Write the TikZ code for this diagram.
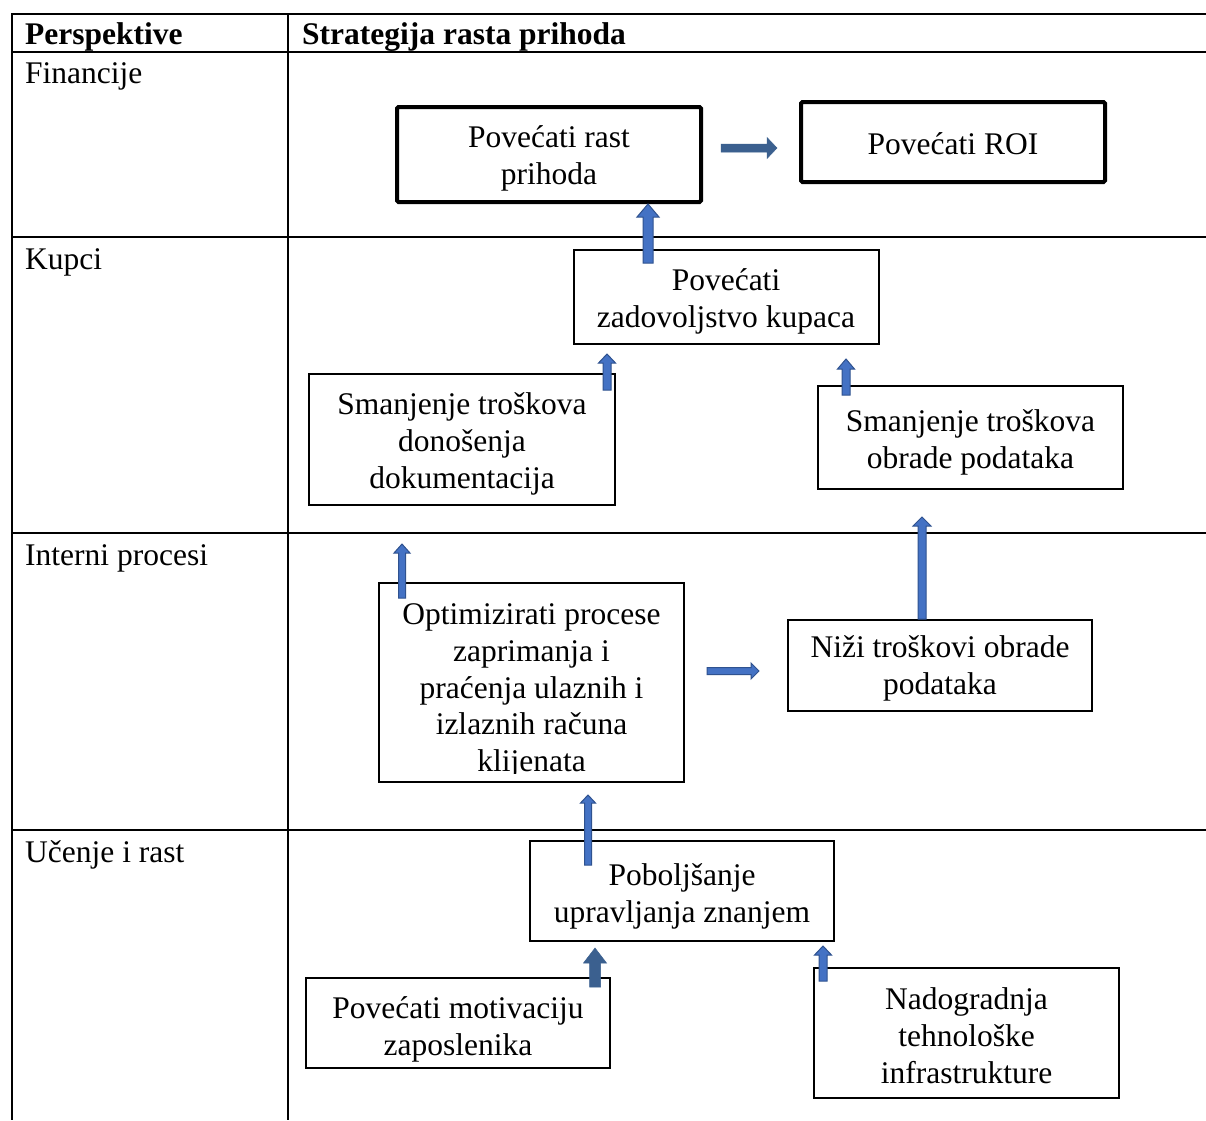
\documentclass[tikz,border=0pt]{standalone}
\usepackage{fontspec}
\setmainfont{Liberation Serif}
\usetikzlibrary{calc}
\definecolor{arrfill}{RGB}{68,114,196}
\definecolor{arrline}{RGB}{47,82,143}
\definecolor{darkarr}{RGB}{59,96,143}
\newcommand{\bxfont}{\fontsize{31.5}{36.8}\selectfont}
% style, tail, tip, half shaft, half head, head length
\newcommand{\blkup}[6]{%
  \filldraw[#1] ($(#2)+(-#4,0)$) -- ($(#3)+(-#4,#6)$) -- ($(#3)+(-#5,#6)$) -- (#3)
    -- ($(#3)+(#5,#6)$) -- ($(#3)+(#4,#6)$) -- ($(#2)+(#4,0)$) -- cycle;}
\newcommand{\blkright}[6]{%
  \filldraw[#1] ($(#2)+(0,-#4)$) -- ($(#3)+(-#6,-#4)$) -- ($(#3)+(-#6,-#5)$) -- (#3)
    -- ($(#3)+(-#6,#5)$) -- ($(#3)+(-#6,#4)$) -- ($(#2)+(0,#4)$) -- cycle;}
\begin{document}
\begin{tikzpicture}[x=1pt,y=-1pt,
  tline/.style={line width=2pt, draw=black},
  box/.style={draw=black, line width=2pt, fill=white, inner sep=0pt},
  thickbox/.style={box, line width=4pt, rounded corners=1.5pt},
  txt/.style={inner sep=0pt, align=center, font=\bxfont},
  lbl/.style={anchor=base west, inner sep=0pt, font=\bxfont},
  hdr/.style={anchor=base west, inner sep=0pt, font=\bxfont\bfseries},
  arrb/.style={fill=arrfill, draw=arrline, line width=1pt},
  arrd/.style={fill=darkarr, draw=darkarr, line width=0.5pt}]
\useasboundingbox (0,0) rectangle (1206,1120);
\fill[white] (0,0) rectangle (1206,1120);

% table
\draw[tline] (11,14) -- (1206,14);
\draw[tline] (11,52) -- (1206,52);
\draw[tline] (11,237) -- (1206,237);
\draw[tline] (11,533) -- (1206,533);
\draw[tline] (11,830) -- (1206,830);
\draw[tline] (12,13) -- (12,1120);
\draw[tline] (288,13) -- (288,1120);

\node[hdr] (h1) at (25,44) {Perspektive};
\node[hdr] (h2) at (302,44) {Strategija rasta prihoda};
\node[lbl] (r1) at (25,83) {Financije};
\node[lbl] (r2) at (25,269) {Kupci};
\node[lbl] (r3) at (25,565) {Interni procesi};
\node[lbl] (r4) at (25,862) {Učenje i rast};

% boxes
\node[thickbox, minimum width=304pt, minimum height=95pt] (b1) at (549,154.5) {};
\node[txt] (b1t) at ($(b1.center)+(0,4)$) {Povećati rast\\ prihoda};
\node[thickbox, minimum width=304pt, minimum height=80pt] (b2) at (953,142) {};
\node[txt] (b2t) at ($(b2.center)+(0,2)$) {Povećati ROI};
\node[box, minimum width=305pt, minimum height=94pt] (b3) at (726,296.5) {};
\node[txt] (b3t) at ($(b3.center)+(0,5)$) {Povećati\\ zadovoljstvo kupaca};
\node[box, minimum width=306pt, minimum height=131pt] (b4) at (462,439.5) {};
\node[txt] (b4t) at ($(b4.center)+(0,4.5)$) {Smanjenje troškova\\ donošenja\\ dokumentacija};
\node[box, minimum width=305pt, minimum height=103pt] (b5) at (970.5,437) {};
\node[txt] (b5t) at ($(b5.center)+(0,5)$) {Smanjenje troškova\\ obrade podataka};
\node[box, minimum width=305pt, minimum height=199pt] (b6) at (531.5,682.5) {};
\begin{scope}
  \clip (380,584) rectangle (684,773);
  \node[txt] (b6t) at (531.5,691)
    {Optimizirati procese\\ zaprimanja i\\ praćenja ulaznih i\\ izlaznih računa\\ klijenata};
\end{scope}
\node[box, minimum width=304pt, minimum height=91pt] (b7) at (940,665.5) {};
\node[txt] (b7t) at ($(b7.center)+(0,3)$) {Niži troškovi obrade\\ podataka};
\node[box, minimum width=304pt, minimum height=100pt] (b8) at (682,891) {};
\node[txt] (b8t) at ($(b8.center)+(0,5)$) {Poboljšanje\\ upravljanja znanjem};
\node[box, minimum width=304pt, minimum height=90pt] (b9) at (458,1023) {};
\node[txt] (b9t) at ($(b9.center)+(0,6.5)$) {Povećati motivaciju\\ zaposlenika};
\node[box, minimum width=305pt, minimum height=130pt] (b10) at (966.5,1033) {};
\node[txt] (b10t) at ($(b10.center)+(0,2.5)$) {Nadogradnja\\ tehnološke\\ infrastrukture};

% arrows
\coordinate (a1t) at (721,148);  \coordinate (a1h) at (777,148);
\coordinate (a2t) at (648,263);  \coordinate (a2h) at (648,204);
\coordinate (a3t) at (607,390);  \coordinate (a3h) at (607,354);
\coordinate (a4t) at (846,395);  \coordinate (a4h) at (846,359);
\coordinate (a5t) at (922,619);  \coordinate (a5h) at (922,517);
\coordinate (a6t) at (402,598);  \coordinate (a6h) at (402,544);
\coordinate (a7t) at (707,671);  \coordinate (a7h) at (759,671);
\coordinate (a8t) at (588,865);  \coordinate (a8h) at (588,795);
\coordinate (a9t) at (595,987);  \coordinate (a9h) at (595,948);
\coordinate (a10t) at (823,981); \coordinate (a10h) at (823,946);

\blkright{arrd}{a1t}{a1h}{4}{10.5}{10}
\blkup{arrb}{a2t}{a2h}{5}{11}{13}
\blkup{arrb}{a3t}{a3h}{4}{8.5}{9}
\blkup{arrb}{a4t}{a4h}{4}{8.5}{10}
\blkup{arrb}{a5t}{a5h}{4}{9}{9}
\blkup{arrb}{a6t}{a6h}{3.5}{8}{9}
\blkright{arrb}{a7t}{a7h}{3.5}{8}{8}
\blkup{arrb}{a8t}{a8h}{3.5}{7.5}{8}
\blkup{arrd}{a9t}{a9h}{5.5}{11.5}{15}
\blkup{arrb}{a10t}{a10h}{4}{8.5}{9}
\end{tikzpicture}
\end{document}
